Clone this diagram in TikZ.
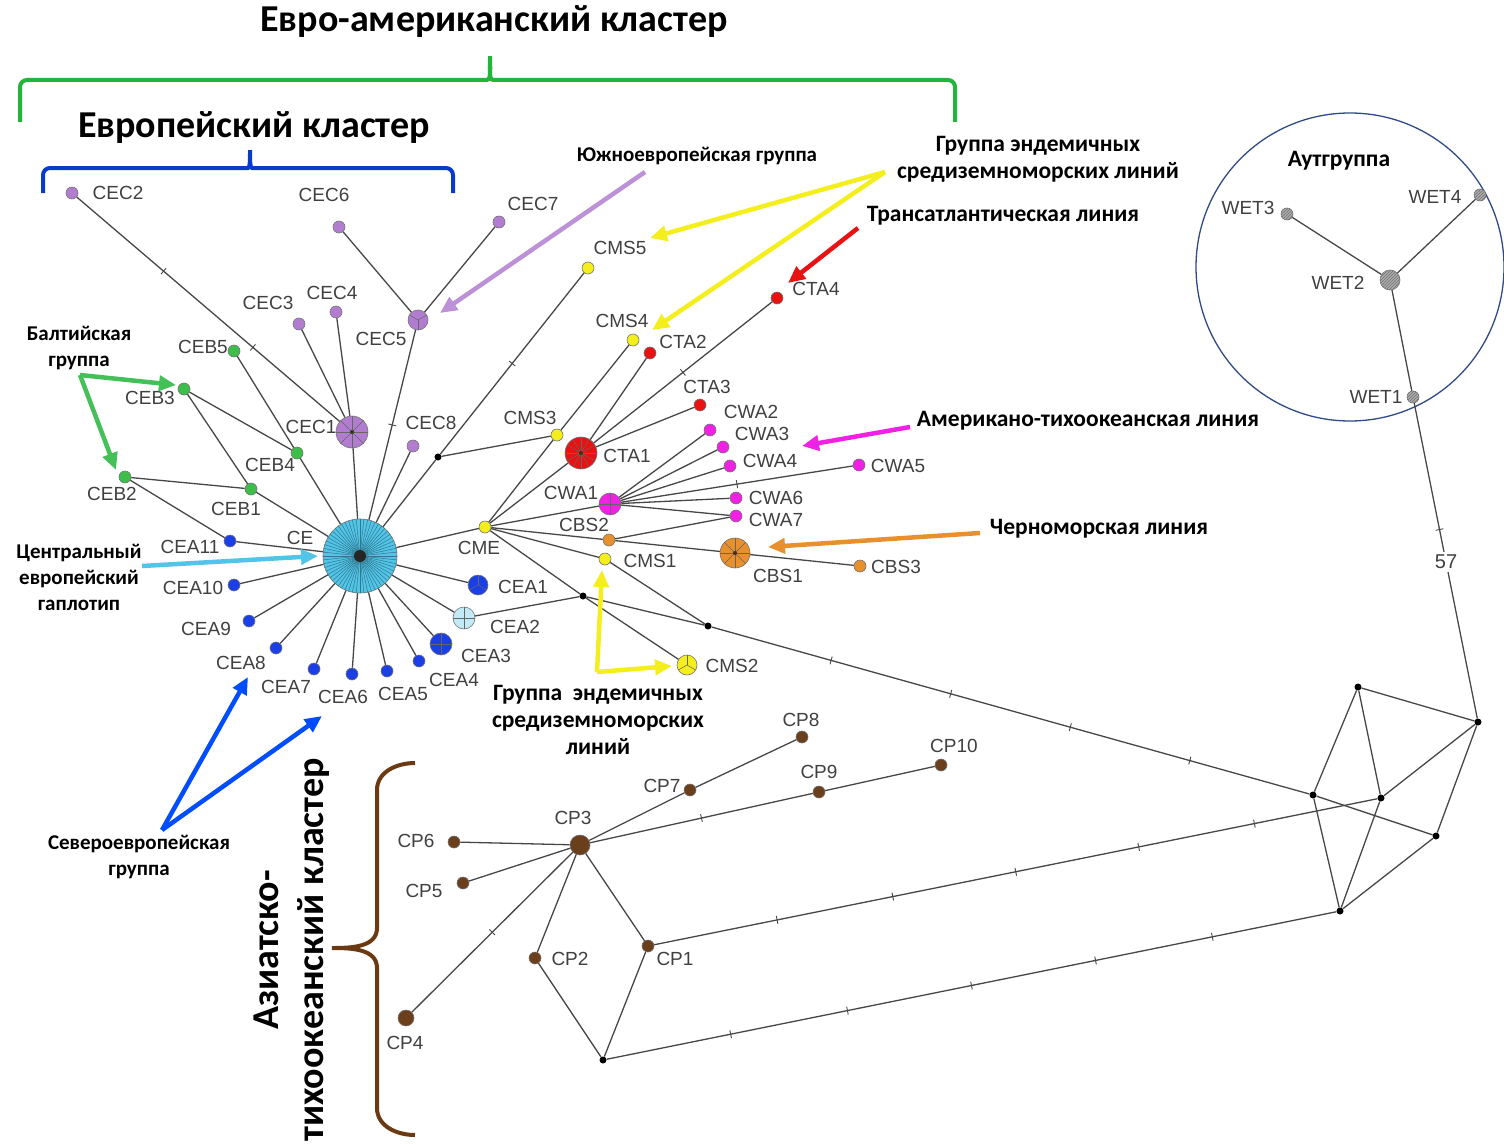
\documentclass[tikz,border=0pt]{standalone}
\usepackage{fontspec}
\setmainfont{Liberation Sans}
\newfontfamily\annotfont{Carlito}
\usetikzlibrary{arrows.meta, patterns, decorations.markings}
\definecolor{cecpurple}{HTML}{B27DD0}
\definecolor{cebgreen}{HTML}{3DBE4B}
\definecolor{ceablue}{HTML}{1A3FE6}
\definecolor{ceblue}{HTML}{52C4E8}
\definecolor{cmsyellow}{HTML}{F4EE1C}
\definecolor{ctared}{HTML}{E81212}
\definecolor{cwamag}{HTML}{F020E4}
\definecolor{cbsorange}{HTML}{E8902E}
\definecolor{cpbrown}{HTML}{6B3E1C}
\definecolor{brgreen}{HTML}{22B53A}
\definecolor{brblue}{HTML}{0A3AC8}
\definecolor{brbrown}{HTML}{6B3A12}
\definecolor{outblue}{HTML}{2F4A86}
\newcommand{\spokes}[3][black!60]{\foreach \a in {#3} \draw[#1, line width=0.5pt] (#2.center) -- (#2.\a);}

\begin{document}
\begin{tikzpicture}[x=1pt, y=-1pt,
  net/.style={draw=black!72, line width=1.3pt},
  hap/.style={circle, inner sep=0pt, minimum size=12pt, draw=black!55, line width=0.6pt},
  med/.style={circle, fill=black, inner sep=0pt, minimum size=7pt},
  lbl/.style={font=\fontsize{19}{19}\selectfont, text=black!75, inner sep=0pt},
  annot/.style={font=\annotfont\bfseries\fontsize{21}{26}\selectfont, align=center, inner sep=0pt},
  annotR/.style={font=\annotfont\bfseries\fontsize{23.5}{27}\selectfont, align=center, inner sep=0pt},
  title/.style={font=\annotfont\bfseries\fontsize{38}{45}\selectfont, align=center, inner sep=0pt},
  mut/.style={postaction={decorate, decoration={markings, mark=at position #1 with {\draw[black!72, line width=0.9pt] (0,-4pt) -- (0,4pt);}}}},
  ptr/.style={line width=4.5pt, -{Triangle[length=17pt, width=15pt]}},
  brace/.style={line width=4pt, rounded corners=7pt}]
\useasboundingbox (0,0) rectangle (1504,1145);
% titles and braces
\node[title] (tEA) at (494,22) {Евро-американский кластер};
\node[title] (tEU) at (254,128) {Европейский кластер};
\node[title, rotate=90] (tAP) at (292,950) {Азиатско-\\тихоокеанский кластер};
\draw[brace, brgreen] (20,122) |- (480,80) to[out=0,in=-90] (490,52) to[out=-90,in=180] (500,80) -| (955,122);
\draw[brace, brblue] (43,193) |- (241,168) to[out=0,in=-90] (250,146) to[out=-90,in=180] (259,168) -| (453,193);
\draw[line width=4pt, brbrown] (415,763) to[out=180,in=90] (377,790) -- (377,928) to[out=-90,in=0] (332,948) to[out=0,in=90] (377,968) -- (377,1108) to[out=-90,in=180] (415,1135);
% outgroup circle
\node[draw=outblue, line width=1.3pt, circle, minimum size=308pt, inner sep=0pt] (outg) at (1350,267) {};
% big haplotypes
\node[hap, minimum size=74pt, fill=ceblue] (CE) at (360,556) {};
\spokes[ceblue!60!black]{CE}{0,6,...,354}
\fill[black!85] (CE.center) circle (6pt);
\node[hap, minimum size=32pt, fill=cecpurple] (CEC1) at (352,432) {};
\spokes{CEC1}{0,45,...,315}
\fill[black!80] (CEC1.center) circle (2pt);
\node[hap, minimum size=20pt, fill=cecpurple] (CEC5) at (418,320) {};
\spokes{CEC5}{30,150,270}
\node[hap, minimum size=32pt, fill=ctared] (CTA1) at (581,453) {};
\spokes{CTA1}{0,30,...,330}
\fill[black!80] (CTA1.center) circle (2pt);
\node[hap, minimum size=22pt, fill=cwamag] (CWA1) at (610,504) {};
\spokes{CWA1}{0,90,180,270}
\node[hap, minimum size=30pt, fill=cbsorange] (CBS1) at (735,553) {};
\spokes{CBS1}{0,45,...,315}
\fill[black!80] (CBS1.center) circle (2pt);
\node[hap, minimum size=20pt, fill=ceablue] (CEA1) at (478,585) {};
\spokes{CEA1}{90,210,330}
\node[hap, minimum size=22pt, fill=ceblue!35] (CEA2) at (464,618) {};
\spokes{CEA2}{0,90,180,270}
\node[hap, minimum size=22pt, fill=ceablue] (CEA3) at (441,644) {};
\spokes{CEA3}{0,90,180,270}
\node[hap, minimum size=20pt, fill=cmsyellow] (CMS2) at (687,665) {};
\spokes{CMS2}{90,210,330}
\node[hap, minimum size=20pt, fill=cpbrown] (CP3) at (580,845) {};
\node[hap, minimum size=16pt, fill=cpbrown] (CP4) at (406,1018) {};
\node[hap, minimum size=20pt, fill=gray!65, postaction={pattern=north east lines, pattern color=black!55}] (WET2) at (1390,280) {};
% small haplotypes
\foreach \n/\x/\y in {CEC2/72/193, CEC3/299/324, CEC4/336/312, CEC6/339/227, CEC7/499/222, CEC8/413/446}
  \node[hap, fill=cecpurple] (\n) at (\x,\y) {};
\foreach \n/\x/\y in {CEB5/234/351, CEB3/184/389, CEB4/297/453, CEB2/125/477, CEB1/251/489}
  \node[hap, fill=cebgreen] (\n) at (\x,\y) {};
\foreach \n/\x/\y in {CEA11/230/541, CEA10/234/585, CEA9/249/621, CEA8/276/648, CEA7/314/669, CEA6/352/674, CEA5/387/671, CEA4/419/661}
  \node[hap, fill=ceablue] (\n) at (\x,\y) {};
\foreach \n/\x/\y in {CME/485/527, CMS3/557/435, CMS5/588/268, CMS4/633/340, CMS1/605/559}
  \node[hap, fill=cmsyellow] (\n) at (\x,\y) {};
\foreach \n/\x/\y in {CTA2/650/353, CTA4/777/298, CTA3/700/405}
  \node[hap, fill=ctared] (\n) at (\x,\y) {};
\foreach \n/\x/\y in {CWA2/710/430, CWA3/723/447, CWA4/730/466, CWA5/859/465, CWA6/736/498, CWA7/736/516}
  \node[hap, fill=cwamag] (\n) at (\x,\y) {};
\foreach \n/\x/\y in {CBS2/609/540, CBS3/860/566}
  \node[hap, fill=cbsorange] (\n) at (\x,\y) {};
\foreach \n/\x/\y in {CP1/648/946, CP2/535/958, CP5/463/883, CP6/454/842, CP7/690/790, CP8/802/737, CP9/819/792, CP10/941/765}
  \node[hap, fill=cpbrown] (\n) at (\x,\y) {};
\foreach \n/\x/\y in {WET3/1287/214, WET4/1480/195, WET1/1413/397}
  \node[hap, fill=gray!65, postaction={pattern=north east lines, pattern color=black!55}] (\n) at (\x,\y) {};
% median vectors
\foreach \n/\x/\y in {ja/438/457, jb/583/596, jc/708/626, jd/603/1060, ma/1313/795, mb/1358/687, mc/1478/722, md/1436/836, me/1340/911, mf/1381/798}
  \node[med] (\n) at (\x,\y) {};
% labels
\foreach \n/\x/\y in {CEC2/118/193, CEC6/324/195, CEC7/533/204, CEC3/268/303, CEC4/332/293, CEC5/381/339,
  CEB5/203/347, CEB3/150/398, CEC1/311/427, CEC8/431/423, CEB4/270/465, CEB2/112/494, CEB1/236/509,
  CE/300/538, CEA11/190/547, CEA10/193/588, CEA9/206/629, CEA8/241/663, CEA7/286/687, CEA6/343/697,
  CEA5/403/694, CEA4/454/680, CEA3/486/656, CEA2/515/627, CEA1/523/587, CME/479/548, CMS3/530/418,
  CMS5/620/248, CMS4/622/321, CTA2/683/342, CTA4/816/289, CTA3/707/387, CTA1/627/456, CWA2/751/412,
  CWA3/762/434, CWA4/770/461, CWA5/898/466, CWA1/571/493, CWA6/776/498, CWA7/776/520, CBS2/584/525,
  CMS1/650/561, CBS1/778/576, CBS3/896/567, CMS2/732/666, CP8/801/720, CP10/954/746, CP9/819/772,
  CP7/662/786, CP3/573/818, CP6/416/841, CP5/424/891, CP2/570/959, CP1/675/959, CP4/405/1043,
  WET3/1248/208, WET4/1435/197, WET2/1338/283, WET1/1376/397}
  \node[lbl] (l\n) at (\x,\y) {\n};
\node[lbl, font=\fontsize{20}{20}\selectfont, fill=white, inner sep=3pt] (n57) at (1446,562) {57};
% network
\draw[net] (CE) -- (CEC1);
\draw[net, mut=.33, mut=.67] (CEC1) -- (CEC2);
\draw[net] (CEC1) -- (CEC3) (CEC1) -- (CEC4);
\draw[net, mut=.5] (CE) -- (CEC5);
\draw[net] (CEC5) -- (CEC6) (CEC5) -- (CEC7) (CE) -- (CEC8) (CE) -- (ja) (ja) -- (CMS3);
\draw[net, mut=.5] (ja) -- (CMS5);
\draw[net] (CE) -- (CEB4) (CEB4) -- (CEB5) (CEB4) -- (CEB3) (CEB3) -- (CEB1) (CEB1) -- (CEB2) (CEB1) -- (CE);
\draw[net] (CEB2) -- (CEA11) (CEA11) -- (CE);
\foreach \n in {CEA1,CEA2,CEA3,CEA4,CEA5,CEA6,CEA7,CEA8,CEA9,CEA10}
  \draw[net] (CE) -- (\n);
\draw[net] (CEA2) -- (jb) (CE) -- (CME) (CME) -- (CMS3) (CMS3) -- (CMS4);
\draw[net] (CME) -- (CTA1) (CTA1) -- (CTA2) (CTA1) -- (CTA3);
\draw[net, mut=.5] (CTA1) -- (CTA4);
\draw[net] (CME) -- (CWA1);
\foreach \n in {CWA2,CWA3,CWA4,CWA6,CWA7}
  \draw[net] (CWA1) -- (\n);
\draw[net, mut=.5] (CWA1) -- (CWA5);
\draw[net] (CME) -- (CBS2) (CBS2) -- (CBS1) (CBS1) -- (CBS3) (CBS2) -- (CWA7);
\draw[net] (CME) -- (CMS1) (CMS1) -- (jc) (CME) -- (jb) (jb) -- (CMS2) (jb) -- (jc);
\draw[net, mut=.2, mut=.4, mut=.6, mut=.8] (jc) -- (ma);
\draw[net] (ma) -- (mb) (ma) -- (md) (ma) -- (me) (mb) -- (mf) (mb) -- (mc) (mf) -- (mc) (mf) -- (me) (mc) -- (md) (md) -- (me);
\draw[net, mut=.17, mut=.33, mut=.5, mut=.67, mut=.83] (CP1) -- (mf);
\draw[net, mut=.17, mut=.33, mut=.5, mut=.67, mut=.83] (jd) -- (me);
\draw[net] (CP3) -- (CP1) (CP3) -- (CP2) (CP2) -- (jd) (CP1) -- (jd);
\draw[net, mut=.5] (CP3) -- (CP4);
\draw[net] (CP3) -- (CP5) (CP3) -- (CP6) (CP3) -- (CP7) (CP7) -- (CP8) (CP9) -- (CP10);
\draw[net, mut=.5] (CP3) -- (CP9);
\draw[net] (WET2) -- (WET3) (WET2) -- (WET4) (WET2) -- (WET1) (n57) -- (mc);
\draw[net, mut=.85] (WET1) -- (n57);
% annotations
\node[annot] (aSE) at (697,156) {Южноевропейская группа};
\node[annotR] (aEM) at (1038,159) {Группа эндемичных\\средиземноморских линий};
\node[annotR] (aTA) at (1003,216) {Трансатлантическая линия};
\node[annotR] (aAP) at (1088,421) {Американо-тихоокеанская линия};
\node[annotR] (aBS) at (1099,529) {Черноморская линия};
\node[annot] (aBG) at (79,348) {Балтийская\\группа};
\node[annot] (aCH) at (79,577) {Центральный\\европейский\\гаплотип};
\node[annotR] (aEM2) at (598,720) {Группа~~эндемичных\\средиземноморских\\линий};
\node[annot] (aNE) at (139,857) {Североевропейская\\группа};
\node[annotR] (aOG) at (1339,161) {Аутгруппа};
% pointers
\coordinate (pSE) at (645,172); \coordinate (pEM) at (885,172);
\coordinate (pTA) at (858,228); \coordinate (pAP) at (910,427);
\coordinate (pBS) at (980,533); \coordinate (pCH) at (142,566);
\coordinate (pBG) at (80,375); \coordinate (pEM2) at (597,672);
\coordinate (pNE) at (162,830);
\draw[ptr, cecpurple!85] (pSE) -- (440,313);
\draw[ptr, cmsyellow] (pEM) -- (650,238);
\draw[ptr, cmsyellow] (pEM) -- (652,330);
\draw[ptr, ctared] (pTA) -- (788,283);
\draw[ptr, cwamag] (pAP) -- (802,446);
\draw[ptr, cbsorange] (pBS) -- (768,547);
\draw[ptr, ceblue] (pCH) -- (318,556);
\draw[ptr, brgreen!85!white] (pBG) -- (176,385);
\draw[ptr, brgreen!85!white] (pBG) -- (116,470);
\draw[ptr, cmsyellow] (pEM2) -- (602,570);
\draw[ptr, cmsyellow] (pEM2) -- (672,666);
\draw[ptr, blue!70!cyan] (pNE) -- (248,677);
\draw[ptr, blue!70!cyan] (pNE) -- (322,716);
\end{tikzpicture}
\end{document}
